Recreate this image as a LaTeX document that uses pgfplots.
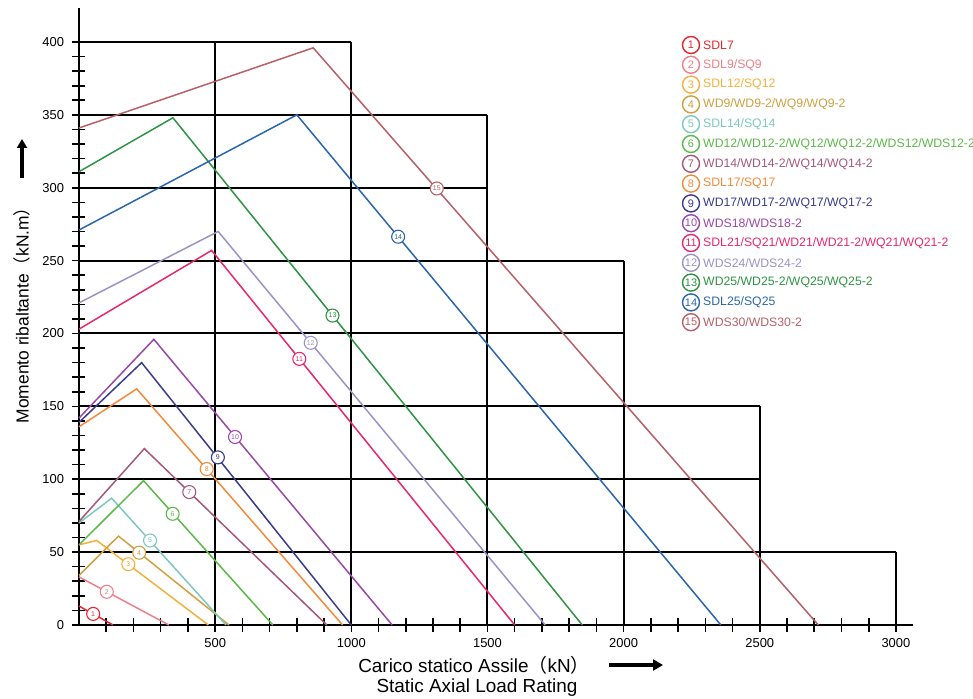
\documentclass[border=0pt]{standalone}
\usepackage{pgfplots}
\pgfplotsset{compat=1.18}
\usepackage{fontspec}
\setmainfont{Liberation Sans}
\newfontfamily\cjk{Noto Sans CJK SC}
\usetikzlibrary{arrows.meta}

\definecolor{c1}{HTML}{E3262E}
\definecolor{c2}{HTML}{EF7F8A}
\definecolor{c3}{HTML}{F4B03C}
\definecolor{c4}{HTML}{CFA040}
\definecolor{c5}{HTML}{7CC8C0}
\definecolor{c6}{HTML}{5BB947}
\definecolor{c7}{HTML}{A5587A}
\definecolor{c8}{HTML}{F28A3A}
\definecolor{c9}{HTML}{3A3C8E}
\definecolor{c10}{HTML}{9A48A8}
\definecolor{c11}{HTML}{E8286E}
\definecolor{c12}{HTML}{9C92C8}
\definecolor{c13}{HTML}{2E9444}
\definecolor{c14}{HTML}{2A66AE}
\definecolor{c15}{HTML}{B86066}

\pgfplotsset{
  ser/.style={#1, line width=1.5bp, mark=none},
  lbl/.style={only marks, mark=none, point meta=explicit symbolic,
    nodes near coords,
    every node near coord/.append style={anchor=center, circle, draw=#1, fill=white,
      text=#1, line width=1.1bp, inner sep=0pt, minimum size=13bp,
      font=\fontsize{7}{7}\selectfont}},
}

\newcommand\legitem[3]{%
  \node[circle, draw=#2, line width=1.4bp, text=#2, minimum size=17bp, inner sep=0pt,
        font=\fontsize{11}{11}\selectfont] at (612bp,{580bp-(#1-1)*19.8bp}) {#1};
  \node[anchor=west, text=#2, inner sep=0pt, font=\fontsize{12.3}{12.3}\selectfont]
        at (624bp,{580bp-(#1-1)*19.8bp}) {#3};}

\begin{document}
\begin{tikzpicture}
\path[use as bounding box] (-79bp,-74bp) rectangle (894bp,625bp);
\begin{axis}[
    anchor=origin, at={(0,0)},
    x=0.27233bp, y=1.4575bp,
    xmin=0, xmax=3062, ymin=0, ymax=423,
    axis lines=left,
    axis line style={-, line width=1.8bp},
    clip=false,
    xtick={500,1000,...,3000},
    minor xtick={100,200,...,3000},
    ytick={0,50,...,400},
    minor ytick={10,20,...,400},
    tick align=center,
    major tick length=13bp, minor tick length=13bp,
    tick style={black, line width=1.6bp},
    ticklabel style={font=\fontsize{13}{13}\selectfont},
    yticklabel style={xshift=-5bp},
    xticklabel style={yshift=-3bp},
    /pgf/number format/assume math mode=true,
    /pgf/number format/1000 sep={},
    scaled ticks=false,
]

% black staircase frame
\draw[black, line width=2bp]
  (axis cs:0,400) -- (axis cs:1000,400)
  (axis cs:0,350) -- (axis cs:1500,350)
  (axis cs:0,300) -- (axis cs:1500,300)
  (axis cs:0,250) -- (axis cs:2000,250)
  (axis cs:0,200) -- (axis cs:2000,200)
  (axis cs:0,150) -- (axis cs:2500,150)
  (axis cs:0,100) -- (axis cs:2500,100)
  (axis cs:0,50) -- (axis cs:3000,50)
  (axis cs:500,0) -- (axis cs:500,400)
  (axis cs:1000,0) -- (axis cs:1000,400)
  (axis cs:1500,0) -- (axis cs:1500,350)
  (axis cs:2000,0) -- (axis cs:2000,250)
  (axis cs:2500,0) -- (axis cs:2500,150)
  (axis cs:3000,0) -- (axis cs:3000,50);

\addplot[ser=c1]  coordinates {(0,13) (125,0)};
\addplot[ser=c2]  coordinates {(0,33) (330,0)};
\addplot[ser=c3]  coordinates {(0,55) (65,58) (475,0)};
\addplot[ser=c4]  coordinates {(0,34) (145,61) (551,0)};
\addplot[ser=c5]  coordinates {(0,70) (120,87) (540,0)};
\addplot[ser=c6]  coordinates {(0,55) (237,99) (712,0)};
\addplot[ser=c7]  coordinates {(0,71) (240,121) (910,0)};
\addplot[ser=c8]  coordinates {(0,136) (212,162) (968,0)};
\addplot[ser=c9]  coordinates {(0,139) (230,180) (1000,0)};
\addplot[ser=c10] coordinates {(0,142) (275,196) (1150,0)};
\addplot[ser=c11] coordinates {(0,203) (487,257) (1600,0)};
\addplot[ser=c12] coordinates {(0,221) (511,270) (1712,0)};
\addplot[ser=c13] coordinates {(0,311) (345,348) (1848,0)};
\addplot[ser=c14] coordinates {(0,271) (800,350) (2357,0)};
\addplot[ser=c15] coordinates {(0,341) (860,396) (2715,0)};

% circled series numbers on the lines
\addplot[lbl=c1]  coordinates {(52,7.6) [1]};
\addplot[lbl=c2]  coordinates {(102,22.8) [2]};
\addplot[lbl=c3]  coordinates {(181,41.7) [3]};
\addplot[lbl=c4]  coordinates {(221,49.6) [4]};
\addplot[lbl=c5]  coordinates {(261,58) [5]};
\addplot[lbl=c6]  coordinates {(344,76.3) [6]};
\addplot[lbl=c7]  coordinates {(405,91.2) [7]};
\addplot[lbl=c8]  coordinates {(469,107) [8]};
\addplot[lbl=c9]  coordinates {(510,115) [9]};
\addplot[lbl=c10] coordinates {(573,129) [10]};
\addplot[lbl=c11] coordinates {(809,182.6) [11]};
\addplot[lbl=c12] coordinates {(851,193.6) [12]};
\addplot[lbl=c13] coordinates {(931,212.3) [13]};
\addplot[lbl=c14] coordinates {(1172,266.4) [14]};
\addplot[lbl=c15] coordinates {(1314,299.5) [15]};
\end{axis}

% axis titles
\node[rotate=90, font=\fontsize{17.5}{17.5}\selectfont] at (-57bp,314bp)
  {Momento ribaltante{\cjk （}kN.m{\cjk ）}};
\draw[line width=3.5bp, -{Triangle[length=9bp,width=10bp]}] (-57bp,447bp) -- (-57bp,486bp);
\node[font=\fontsize{19}{19}\selectfont] at (395bp,-40bp)
  {Carico statico Assile{\cjk （}kN{\cjk ）}};
\draw[line width=3.5bp, -{Triangle[length=10bp,width=11bp]}] (530bp,-40bp) -- (584bp,-40bp);
\node[font=\fontsize{19}{19}\selectfont] at (398bp,-63bp) {Static Axial Load Rating};

% legend
\legitem{1}{c1}{SDL7}
\legitem{2}{c2}{SDL9/SQ9}
\legitem{3}{c3}{SDL12/SQ12}
\legitem{4}{c4}{WD9/WD9-2/WQ9/WQ9-2}
\legitem{5}{c5}{SDL14/SQ14}
\legitem{6}{c6}{WD12/WD12-2/WQ12/WQ12-2/WDS12/WDS12-2}
\legitem{7}{c7}{WD14/WD14-2/WQ14/WQ14-2}
\legitem{8}{c8}{SDL17/SQ17}
\legitem{9}{c9}{WD17/WD17-2/WQ17/WQ17-2}
\legitem{10}{c10}{WDS18/WDS18-2}
\legitem{11}{c11}{SDL21/SQ21/WD21/WD21-2/WQ21/WQ21-2}
\legitem{12}{c12}{WDS24/WDS24-2}
\legitem{13}{c13}{WD25/WD25-2/WQ25/WQ25-2}
\legitem{14}{c14}{SDL25/SQ25}
\legitem{15}{c15}{WDS30/WDS30-2}
\end{tikzpicture}
\end{document}
